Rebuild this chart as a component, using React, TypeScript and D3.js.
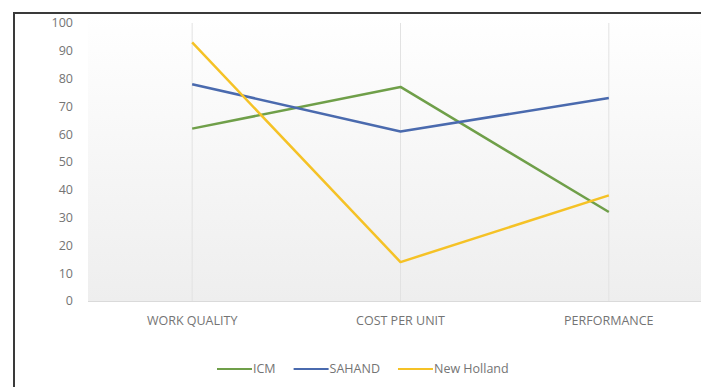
import { useEffect, useRef } from "react";
import * as d3 from "d3";

const categories = ["WORK QUALITY", "COST PER UNIT", "PERFORMANCE"];
const seriesNames = ["ICM", "SAHAND", "New Holland"];
const icmValues = [62, 77, 32];
const sahandValues = [78, 61, 73];
const newHollandValues = [93, 14, 38];
const yTicks = [0, 10, 20, 30, 40, 50, 60, 70, 80, 90, 100];
const colors = ["#6f9f49", "#4a6aae", "#f5c226"];

const W = 701;
const H = 387;
const FONT = "'Open Sans', sans-serif";

export default function App() {
  const svgRef = useRef<SVGSVGElement>(null);

  useEffect(() => {
    const svg = d3.select(svgRef.current);
    svg.selectAll("*").remove();

    const left = 88, right = 713, top = 23, bottom = 301;

    const x = d3.scalePoint<string>().domain(categories).range([left, right]).padding(0.5);
    const y = d3.scaleLinear().domain([0, 100]).range([bottom, top]);

    const defs = svg.append("defs");
    const grad = defs.append("linearGradient")
      .attr("id", "plotbg").attr("x1", 0).attr("y1", 0).attr("x2", 0).attr("y2", 1);
    grad.append("stop").attr("offset", "0%").attr("stop-color", "#ffffff");
    grad.append("stop").attr("offset", "100%").attr("stop-color", "#eeeeee");

    svg.append("rect").attr("width", W).attr("height", H).attr("fill", "#fff");

    // plot background
    svg.append("rect")
      .attr("x", left).attr("y", 15)
      .attr("width", right - left).attr("height", bottom - 15)
      .attr("fill", "url(#plotbg)");

    // vertical gridlines at categories
    svg.append("g").selectAll("line").data(categories).join("line")
      .attr("x1", d => x(d)!).attr("x2", d => x(d)!)
      .attr("y1", top).attr("y2", bottom)
      .attr("stroke", "#e2e2e2").attr("stroke-width", 1);

    // baseline
    svg.append("line")
      .attr("x1", left).attr("x2", right).attr("y1", bottom + 0.5).attr("y2", bottom + 0.5)
      .attr("stroke", "#dadada");

    // y labels
    svg.append("g").selectAll("text").data(yTicks).join("text")
      .attr("x", 73).attr("y", d => y(d))
      .attr("dy", "0.35em")
      .attr("text-anchor", "end")
      .attr("font-family", FONT).attr("font-size", 12.5)
      .attr("fill", "#747474")
      .text(d => d);

    // x labels
    svg.append("g").selectAll("text").data(categories).join("text")
      .attr("x", d => x(d)!).attr("y", 321)
      .attr("dy", "0.35em")
      .attr("text-anchor", "middle")
      .attr("font-family", FONT).attr("font-size", 12.5)
      .attr("fill", "#747474")
      .text(d => d);

    const allSeries = [icmValues, sahandValues, newHollandValues];
    const line = d3.line<number>()
      .x((_, i) => x(categories[i])!)
      .y(d => y(d));

    allSeries.forEach((vals, i) => {
      svg.append("path")
        .attr("d", line(vals))
        .attr("fill", "none")
        .attr("stroke", colors[i])
        .attr("stroke-width", 2.5)
        .attr("stroke-linejoin", "round");
    });

    // legend
    const legend = svg.append("g");
    let lx = 217;
    const ly = 369;
    seriesNames.forEach((name, i) => {
      legend.append("line")
        .attr("x1", lx).attr("x2", lx + 35).attr("y1", ly).attr("y2", ly)
        .attr("stroke", colors[i]).attr("stroke-width", 2.2);
      const t = legend.append("text")
        .attr("x", lx + 36).attr("y", ly).attr("dy", "0.35em")
        .attr("font-family", FONT).attr("font-size", 12.5)
        .attr("fill", "#747474")
        .text(name);
      const w = (t.node() as SVGTextElement).getComputedTextLength();
      lx = lx + 36 + w + 18;
    });

    // frame (cropped screenshot: only left and top edges visible)
    svg.append("line")
      .attr("x1", 14).attr("x2", 14).attr("y1", 12).attr("y2", H)
      .attr("stroke", "#3a3a3a").attr("stroke-width", 2);
    svg.append("line")
      .attr("x1", 13).attr("x2", W).attr("y1", 13).attr("y2", 13)
      .attr("stroke", "#3a3a3a").attr("stroke-width", 2);
  }, []);

  return (
    <svg
      ref={svgRef}
      width={W}
      height={H}
      style={{ position: "absolute", left: 0, top: 0, display: "block" }}
    />
  );
}
